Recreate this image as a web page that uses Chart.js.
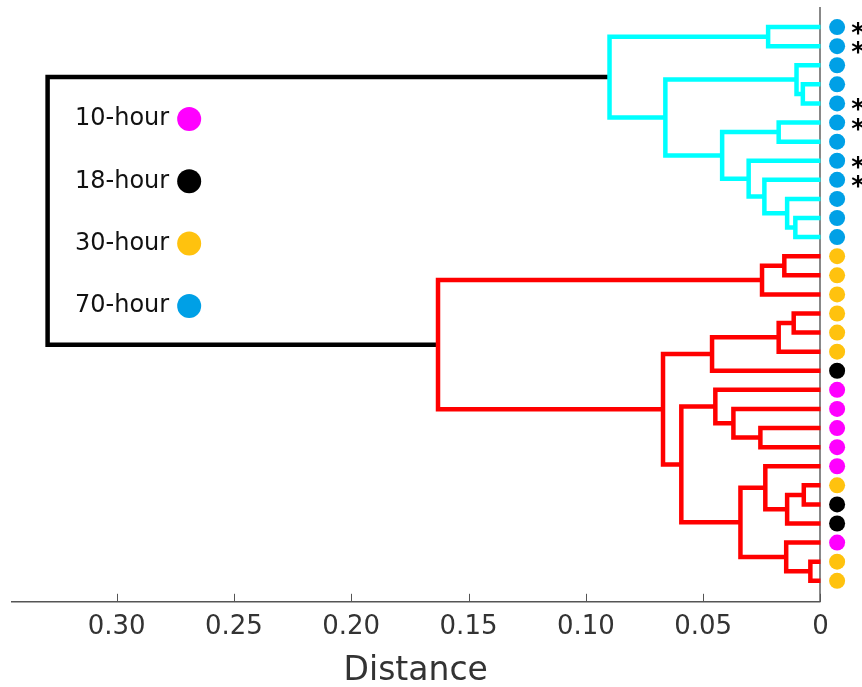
<!DOCTYPE html>
<html>
<head>
<meta charset="utf-8">
<script src="https://cdn.jsdelivr.net/npm/chart.js@4.4.0/dist/chart.umd.min.js"></script>
<style>
    body { margin: 0; background: #fff; }
    #wrap { width: 862px; height: 687px; }
</style>
</head>
<body>
<div id="wrap"><canvas id="myChart"></canvas></div>
<script>
// leaves from top to bottom, value = index into groupNames
let leafGroups = [3, 3, 3, 3, 3, 3, 3, 3, 3, 3, 3, 3,
                  2, 2, 2, 2, 2, 2, 1, 0, 0, 0, 0, 0,
                  2, 1, 1, 0, 2, 2];
let starredLeaves = [0, 1, 4, 5, 7, 8];

// linkage: merge k makes node 30+k out of mergeLeft[k] and mergeRight[k]
let mergeLeft   = [3, 24, 28, 2, 10, 15, 9, 31, 27, 12, 5, 35, 0, 8, 39, 21, 7, 23, 47, 20, 40, 19, 41, 51, 33, 52, 42, 44, 56];
let mergeRight  = [4, 25, 29, 30, 11, 16, 34, 26, 32, 13, 6, 17, 1, 36, 14, 22, 43, 37, 38, 45, 46, 49, 18, 48, 50, 53, 54, 55, 57];
let mergeHeight = [0.0075, 0.0071, 0.0043, 0.0102, 0.0107, 0.0114, 0.0142, 0.0142, 0.0146, 0.0154,
                   0.0178, 0.0178, 0.0223, 0.0239, 0.0249, 0.0256, 0.0306, 0.0235, 0.0341, 0.0371,
                   0.0419, 0.0448, 0.0462, 0.0593, 0.0661, 0.0671, 0.0899, 0.163, 0.3294];

let groupNames = ['10-hour', '18-hour', '30-hour', '70-hour'];
let groupColors = ['#ff00ff', '#000000', '#ffc20e', '#00a0e6'];
let clusterColors = ['#00ffff', '#ff0000'];
let colorThreshold = 0.23;
let axisTitle = 'Distance';

let nLeaves = leafGroups.length;
let nodeX = [], nodeY = [];
for (let i = 0; i < nLeaves; i++) { nodeX.push(0); nodeY.push(i); }
for (let k = 0; k < mergeHeight.length; k++) {
    nodeX.push(mergeHeight[k]);
    nodeY.push((nodeY[mergeLeft[k]] + nodeY[mergeRight[k]]) / 2);
}

// colour of each link (black above threshold, one colour per cluster below)
let linkColor = [];
let nextCluster = 0;
function paint(node, color) {
    if (node < nLeaves) return;
    let k = node - nLeaves;
    if (color == null && mergeHeight[k] < colorThreshold) {
        color = clusterColors[nextCluster++];
    }
    linkColor[k] = color || '#000000';
    paint(mergeLeft[k], color);
    paint(mergeRight[k], color);
}
paint(nLeaves + mergeHeight.length - 1, null);

let datasets = [];
for (let k = 0; k < mergeHeight.length; k++) {
    let l = mergeLeft[k], r = mergeRight[k];
    datasets.push({
        showLine: true,
        data: [
            {x: nodeX[l], y: nodeY[l]},
            {x: mergeHeight[k], y: nodeY[l]},
            {x: mergeHeight[k], y: nodeY[r]},
            {x: nodeX[r], y: nodeY[r]}
        ],
        borderColor: linkColor[k],
        borderWidth: 4.5,
        pointRadius: 0,
        tension: 0,
        fill: false
    });
}

// leaf dots just right of the zero line
let dotX = -0.0071;
for (let g = 0; g < groupNames.length; g++) {
    let pts = [];
    leafGroups.forEach((grp, i) => { if (grp === g) pts.push({x: dotX, y: i}); });
    datasets.push({
        label: groupNames[g],
        data: pts,
        pointRadius: 8,
        pointHoverRadius: 8,
        pointBackgroundColor: groupColors[g],
        pointBorderWidth: 0
    });
}

let extras = {
    id: 'extras',
    afterDraw(chart) {
        let ctx = chart.ctx;
        let xs = chart.scales.x, ys = chart.scales.y;
        let area = chart.chartArea;
        let zeroPx = xs.getPixelForValue(0);
        ctx.save();
        // x axis line, ending at zero
        ctx.strokeStyle = '#555';
        ctx.lineWidth = 1.5;
        ctx.beginPath();
        ctx.moveTo(area.left, area.bottom);
        ctx.lineTo(zeroPx, area.bottom);
        ctx.stroke();
        // inward tick marks
        ctx.lineWidth = 1;
        xs.ticks.forEach((t, i) => {
            let px = Math.round(xs.getPixelForTick(i)) + 0.5;
            ctx.beginPath();
            ctx.moveTo(px, area.bottom);
            ctx.lineTo(px, area.bottom - 8);
            ctx.stroke();
        });
        // axis title, centred under the drawn axis
        ctx.fillStyle = '#333';
        ctx.font = '33px "DejaVu Sans"';
        ctx.textAlign = 'center';
        ctx.textBaseline = 'alphabetic';
        ctx.fillText(axisTitle, (area.left + zeroPx) / 2, area.bottom + 78);
        // asterisks
        ctx.fillStyle = '#000';
        ctx.font = 'bold 26px "DejaVu Sans"';
        let m = ctx.measureText('*');
        let mid = (m.actualBoundingBoxAscent - m.actualBoundingBoxDescent) / 2;
        starredLeaves.forEach(i => {
            ctx.fillText('*', xs.getPixelForValue(dotX) + 21, ys.getPixelForValue(i) + 1.5 + mid);
        });
        // legend
        ctx.font = '24px "DejaVu Sans"';
        ctx.textAlign = 'left';
        ctx.textBaseline = 'middle';
        groupNames.forEach((name, g) => {
            let ty = area.top + 111 + g * 62.3;
            let tx = area.left + 64;
            ctx.fillStyle = '#111';
            ctx.fillText(name, tx, ty);
            let w = ctx.measureText(name).width;
            ctx.beginPath();
            ctx.arc(tx + w + 20, ty, 12, 0, Math.PI * 2);
            ctx.fillStyle = groupColors[g];
            ctx.fill();
        });
        ctx.restore();
    }
};

let ctx = document.getElementById('myChart').getContext('2d');
let myChart = new Chart(ctx, {
    type: 'scatter',
    data: { datasets: datasets },
    options: {
        responsive: true,
        maintainAspectRatio: false,
        animation: false,
        events: [],
        layout: { padding: { left: 11, right: 0, top: 8, bottom: 34 } },
        plugins: { legend: { display: false }, tooltip: { enabled: false } },
        scales: {
            x: {
                type: 'linear',
                reverse: true,
                min: -0.0143,
                max: 0.345,
                grid: { display: false, drawTicks: false },
                border: { display: false },
                ticks: {
                    stepSize: 0.05,
                    includeBounds: false,
                    padding: 10,
                    color: '#333',
                    font: { family: 'DejaVu Sans', size: 26 },
                    maxRotation: 0,
                    callback: v => v === 0 ? '0' : v.toFixed(2)
                }
            },
            y: {
                type: 'linear',
                position: { x: 0 },
                reverse: true,
                min: -1,
                max: 30.1,
                grid: { display: false, drawTicks: false },
                border: { display: true, color: '#888', width: 2 },
                ticks: { display: false }
            }
        }
    },
    plugins: [extras]
});
</script>
</body>
</html>
